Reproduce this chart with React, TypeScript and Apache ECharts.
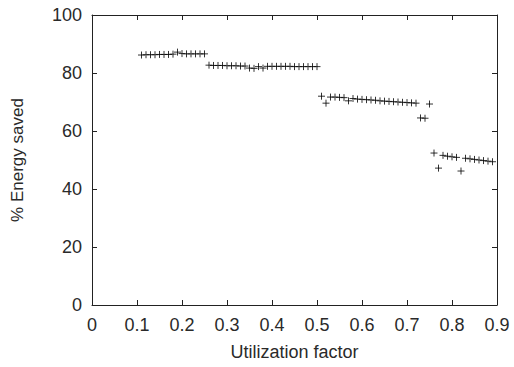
import React, { useEffect, useRef } from "react";
import * as echarts from "echarts";

const xTicks = [0, 0.1, 0.2, 0.3, 0.4, 0.5, 0.6, 0.7, 0.8, 0.9];
const yTicks = [0, 20, 40, 60, 80, 100];

const utilization = [
  0.11, 0.12, 0.13, 0.14, 0.15, 0.16, 0.17, 0.18, 0.19, 0.2, 0.21, 0.22, 0.23, 0.24, 0.25,
  0.26, 0.27, 0.28, 0.29, 0.3, 0.31, 0.32, 0.33, 0.34, 0.35, 0.36, 0.37, 0.38, 0.39, 0.4,
  0.41, 0.42, 0.43, 0.44, 0.45, 0.46, 0.47, 0.48, 0.49, 0.5,
  0.51, 0.52, 0.53, 0.54, 0.55, 0.56, 0.57, 0.58, 0.59, 0.6, 0.61, 0.62, 0.63, 0.64, 0.65,
  0.66, 0.67, 0.68, 0.69, 0.7, 0.71, 0.72, 0.73, 0.74, 0.75,
  0.76, 0.77, 0.78, 0.79, 0.8, 0.81, 0.82, 0.83, 0.84, 0.85, 0.86, 0.87, 0.88, 0.89,
];

const energySaved = [
  86.2, 86.3, 86.3, 86.3, 86.4, 86.4, 86.4, 86.5, 87.2, 86.7, 86.6, 86.6, 86.6, 86.6, 86.6,
  82.7, 82.6, 82.6, 82.6, 82.5, 82.5, 82.5, 82.4, 82.4, 81.7, 81.6, 82.2, 81.7, 82.3, 82.3,
  82.3, 82.3, 82.3, 82.3, 82.2, 82.2, 82.2, 82.2, 82.2, 82.2,
  72.0, 69.6, 71.7, 71.7, 71.6, 71.5, 70.4, 71.2, 71.0, 70.9, 70.8, 70.7, 70.6, 70.4, 70.3,
  70.2, 70.1, 70.0, 69.9, 69.8, 69.7, 69.6, 64.5, 64.4, 69.3,
  52.4, 47.2, 51.6, 51.3, 51.1, 50.9, 46.2, 50.6, 50.4, 50.2, 50.0, 49.8, 49.6, 49.4,
];

const xName = "Utilization factor";
const yName = "% Energy saved";

export default function App() {
  const ref = useRef<HTMLDivElement>(null);
  useEffect(() => {
    if (!ref.current) return;
    const chart = echarts.init(ref.current, null, { renderer: "svg" });
    const font = "'Liberation Sans', Arial, sans-serif";
    const textColor = "#2a2a2a";
    const axisColor = "#222";
    const fmtX = (v: number) => (Math.abs(v) < 1e-9 ? "0" : v.toFixed(1));
    const data = utilization.map((x, i) => [x, energySaved[i]]);
    const mirrorLine = { show: true, onZero: false, lineStyle: { color: axisColor, width: 1 } };
    chart.setOption({
      animation: false,
      backgroundColor: "#fff",
      grid: { left: 92, top: 15, width: 405, height: 290, containLabel: false },
      xAxis: [
        {
          type: "value",
          min: 0,
          max: 0.9,
          interval: 0.1,
          position: "bottom",
          name: xName,
          nameLocation: "middle",
          nameGap: 38,
          nameTextStyle: { fontFamily: font, fontSize: 18, color: textColor },
          axisLine: { show: true, onZero: false, lineStyle: { color: axisColor, width: 1 } },
          axisTick: { show: true, inside: true, length: 5, lineStyle: { color: axisColor } },
          axisLabel: { formatter: fmtX, fontFamily: font, fontSize: 18, color: textColor, margin: 11 },
          splitLine: { show: false },
        },
        {
          type: "value",
          min: 0,
          max: 0.9,
          interval: 0.1,
          position: "top",
          axisLine: mirrorLine,
          axisTick: { show: true, inside: true, length: 5, lineStyle: { color: axisColor } },
          axisLabel: { show: false },
          splitLine: { show: false },
        },
      ],
      yAxis: [
        {
          type: "value",
          min: 0,
          max: 100,
          interval: 20,
          position: "left",
          name: yName,
          nameLocation: "middle",
          nameGap: 66,
          nameRotate: 90,
          nameTextStyle: { fontFamily: font, fontSize: 17, color: textColor },
          axisLine: { show: true, onZero: false, lineStyle: { color: axisColor, width: 1 } },
          axisTick: { show: true, inside: true, length: 5, lineStyle: { color: axisColor } },
          axisLabel: { fontFamily: font, fontSize: 18, color: textColor, margin: 10 },
          splitLine: { show: false },
        },
        {
          type: "value",
          min: 0,
          max: 100,
          interval: 20,
          position: "right",
          axisLine: mirrorLine,
          axisTick: { show: true, inside: true, length: 5, lineStyle: { color: axisColor } },
          axisLabel: { show: false },
          splitLine: { show: false },
        },
      ],
      series: [
        {
          type: "scatter",
          xAxisIndex: 0,
          yAxisIndex: 0,
          data,
          symbol: "path://M0,5L10,5M5,0L5,10",
          symbolSize: 7,
          itemStyle: { color: "none", borderColor: "#000", borderWidth: 1 },
          emphasis: { disabled: true },
        },
      ],
    });
    return () => chart.dispose();
  }, []);
  return (
    <div
      ref={ref}
      style={{ position: "absolute", left: 0, top: 0, width: 514, height: 367 }}
    />
  );
}
